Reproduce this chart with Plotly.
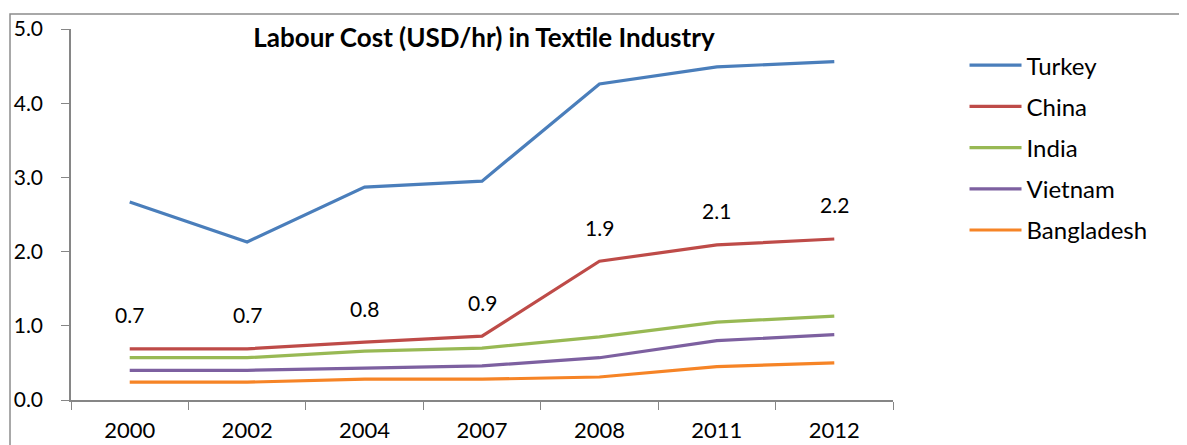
import plotly.graph_objects as go

ANIOS = ["2000", "2002", "2004", "2007", "2008", "2011", "2012"]

TURQUIA = [2.67, 2.13, 2.87, 2.95, 4.26, 4.49, 4.56]
CHINA = [0.69, 0.69, 0.78, 0.86, 1.87, 2.09, 2.17]
INDIA = [0.57, 0.57, 0.66, 0.70, 0.85, 1.05, 1.13]
VIETNAM = [0.40, 0.40, 0.43, 0.46, 0.57, 0.80, 0.88]
BANGLADESH = [0.24, 0.24, 0.28, 0.28, 0.31, 0.45, 0.50]

SERIES = [
    ("Turkey", TURQUIA, "#4A7EBB"),
    ("China", CHINA, "#BE4B48"),
    ("India", INDIA, "#98B954"),
    ("Vietnam", VIETNAM, "#7D60A0"),
    ("Bangladesh", BANGLADESH, "#F68426"),
]

FUENTE = "Lato, Calibri, sans-serif"

fig = go.Figure()
for i, (nombre, valores, color) in enumerate(SERIES):
    fig.add_trace(go.Scatter(
        x=ANIOS,
        y=valores,
        name=nombre,
        mode="lines",
        line=dict(color=color, width=3.2),
        legendgroup=str(i),
    ))

# etiquetas de China, por encima de cada punto (x como indice de categoria)
for i, valor in enumerate(CHINA):
    fig.add_annotation(
        x=i, y=valor, xref="x", yref="y", text=f"{valor:.1f}", showarrow=False,
        yshift=34, font=dict(family=FUENTE, size=21, color="#000000"),
    )

# borde del area del grafico
fig.add_shape(
    type="rect", xref="paper", yref="paper",
    x0=-0.0742, x1=1.6, y0=-0.5, y1=1.0404,
    line=dict(color="#8C8C8C", width=1.5),
)

# la pagina tiene 8px de margen en el body, por eso 1179x437
fig.update_layout(
    width=1179,
    height=437,
    margin=dict(l=63, r=294, t=21, b=45),
    paper_bgcolor="white",
    plot_bgcolor="white",
    font=dict(family=FUENTE, size=21, color="#000000"),
    title=dict(
        text="<b>Labour Cost (USD/hr) in Textile Industry</b>",
        x=0.4037, xanchor="center", y=0.931, yanchor="middle",
        font=dict(family=FUENTE, size=26, color="#000000"),
    ),
    showlegend=True,
    legend=dict(
        x=1.087, xanchor="left", y=0.962, yanchor="top",
        traceorder="grouped", tracegroupgap=7,
        font=dict(family=FUENTE, size=24, color="#000000"),
        itemwidth=52,
        bgcolor="rgba(0,0,0,0)",
    ),
)

fig.update_xaxes(
    type="category",
    range=[-0.5, 6.5],
    automargin=False,
    showgrid=False,
    showline=True, linecolor="#868686", linewidth=1.5,
    ticks="outside", tickson="boundaries", ticklen=8, tickcolor="#868686",
    ticklabelstandoff=10,
    tickfont=dict(family=FUENTE, size=22),
)
fig.update_yaxes(
    range=[0, 5],
    automargin=False,
    tickvals=[0, 1, 2, 3, 4, 5],
    tickformat=".1f",
    showgrid=False, zeroline=False,
    showline=True, linecolor="#868686", linewidth=1.5,
    ticks="outside", ticklen=8, tickcolor="#868686",
    ticklabelstandoff=14,
    tickfont=dict(family=FUENTE, size=21),
)

fig.write_html("out.html")
